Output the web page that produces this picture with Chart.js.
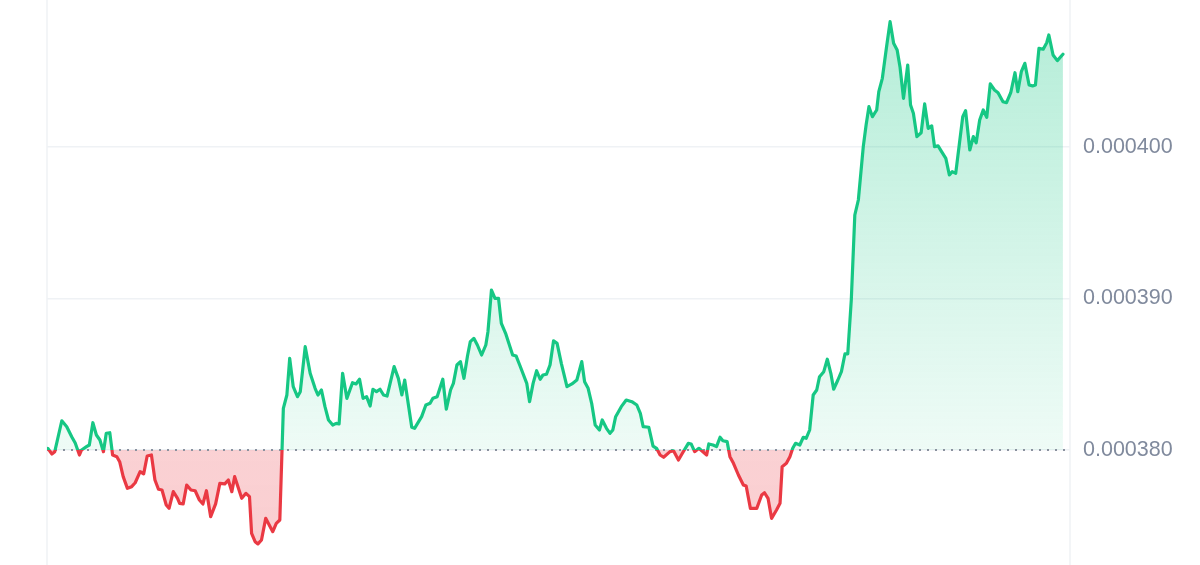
<!DOCTYPE html>
<html><head><meta charset="utf-8">
<script src="https://cdn.jsdelivr.net/npm/chart.js@4.4.1/dist/chart.umd.min.js"></script>
<style>html,body{margin:0;padding:0;background:#fff;overflow:hidden}#wrap{width:1200px;height:565px;position:relative}</style>
</head><body><div id="wrap"><canvas id="c" width="1200" height="565"></canvas></div>
<script>
// ---- data ----
const BASELINE = 380e-6;                 // opening price, dotted reference line
const yTicks = [380e-6, 390e-6, 400e-6]; // right axis tick labels
const X_MIN = 0, X_MAX = 1450;           // minutes (24h window + right padding)
const Y_MIN = 372.41e-6, Y_MAX = 409.70e-6;

const times = [
1,7,11,21,28,35,40,46,49,56,
60,65,70,75,80,84,89,93,99,103,
108,114,120,125,132,137,142,148,153,158,
163,169,173,179,185,188,193,198,204,210,
216,221,226,232,239,245,252,257,262,266,
276,282,287,290,295,299,304,310,320,325,
330,335,340,344,349,355,359,366,373,380,
384,389,394,399,405,410,414,419,425,433,
438,443,448,453,458,462,467,472,477,482,
492,498,503,507,517,521,531,537,543,547,
553,561,566,572,576,581,586,591,596,600,
605,610,616,622,625,630,635,640,644,650,
660,665,670,680,684,689,694,699,703,708,
713,718,723,729,737,744,751,758,762,767,
772,777,783,787,793,798,802,806,814,821,
829,836,841,845,853,859,864,869,874,883,
888,895,901,909,913,918,924,935,938,944,
949,954,958,964,968,973,980,987,991,997,
1001,1006,1013,1017,1022,1027,1034,1039,1042,1048,
1053,1057,1061,1067,1072,1076,1081,1086,1091,1095,
1101,1106,1111,1115,1121,1126,1131,1135,1140,1145,
1150,1157,1161,1165,1170,1176,1179,1184,1190,1195,
1200,1205,1209,1214,1220,1224,1228,1233,1239,1244,
1249,1254,1258,1263,1268,1274,1279,1283,1288,1293,
1298,1302,1308,1313,1317,1322,1327,1332,1337,1343,
1348,1355,1360,1366,1372,1376,1381,1386,1392,1397,
1401,1406,1412,1417,1420,1426,1432,1440
];

const prices = [
380.11e-6,379.74e-6,379.89e-6,381.93e-6,381.54e-6,380.88e-6,380.46e-6,379.67e-6,380.00e-6,380.22e-6,
380.33e-6,381.80e-6,380.99e-6,380.66e-6,379.89e-6,381.10e-6,381.14e-6,379.67e-6,379.56e-6,379.23e-6,
378.24e-6,377.47e-6,377.58e-6,377.84e-6,378.57e-6,378.42e-6,379.60e-6,379.67e-6,378.02e-6,377.41e-6,
377.36e-6,376.37e-6,376.15e-6,377.25e-6,376.81e-6,376.48e-6,376.44e-6,377.69e-6,377.36e-6,377.31e-6,
376.70e-6,376.44e-6,377.31e-6,375.60e-6,376.44e-6,377.80e-6,377.76e-6,378.02e-6,377.25e-6,378.24e-6,
376.81e-6,377.14e-6,376.92e-6,374.50e-6,373.95e-6,373.80e-6,374.06e-6,375.49e-6,374.61e-6,375.16e-6,
375.38e-6,382.75e-6,383.63e-6,386.05e-6,384.18e-6,383.52e-6,383.85e-6,386.82e-6,385.06e-6,384.07e-6,
383.63e-6,383.96e-6,382.86e-6,381.98e-6,381.65e-6,381.76e-6,381.72e-6,385.06e-6,383.41e-6,384.44e-6,
384.36e-6,384.67e-6,383.41e-6,383.52e-6,382.90e-6,384.01e-6,383.85e-6,384.01e-6,383.63e-6,383.56e-6,
385.50e-6,384.73e-6,383.63e-6,384.62e-6,381.50e-6,381.43e-6,382.20e-6,382.97e-6,383.08e-6,383.41e-6,
383.52e-6,384.67e-6,382.69e-6,383.96e-6,384.40e-6,385.61e-6,385.83e-6,384.73e-6,386.20e-6,387.15e-6,
387.37e-6,386.93e-6,386.27e-6,386.93e-6,387.81e-6,390.56e-6,390.01e-6,390.01e-6,388.36e-6,387.70e-6,
386.27e-6,386.20e-6,385.61e-6,384.40e-6,383.19e-6,384.40e-6,385.23e-6,384.67e-6,384.95e-6,385.00e-6,
385.61e-6,387.21e-6,387.04e-6,385.72e-6,384.18e-6,384.36e-6,384.62e-6,385.83e-6,384.51e-6,384.07e-6,
383.08e-6,381.65e-6,381.32e-6,381.98e-6,381.43e-6,381.10e-6,381.32e-6,382.20e-6,382.86e-6,383.30e-6,
383.19e-6,382.97e-6,382.42e-6,381.54e-6,381.50e-6,380.26e-6,380.11e-6,379.67e-6,379.52e-6,379.89e-6,
379.95e-6,379.34e-6,379.82e-6,380.44e-6,380.40e-6,379.89e-6,380.11e-6,379.67e-6,380.40e-6,380.33e-6,
380.22e-6,380.84e-6,380.61e-6,380.55e-6,379.56e-6,379.12e-6,378.35e-6,377.69e-6,377.62e-6,376.15e-6,
376.15e-6,376.15e-6,377.03e-6,377.18e-6,376.81e-6,375.49e-6,376.04e-6,376.48e-6,378.90e-6,379.12e-6,
379.56e-6,380.11e-6,380.44e-6,380.33e-6,380.84e-6,380.77e-6,381.32e-6,383.63e-6,383.96e-6,384.84e-6,
385.17e-6,385.99e-6,385.06e-6,384.01e-6,384.62e-6,385.17e-6,386.34e-6,386.34e-6,389.90e-6,395.51e-6,
396.50e-6,400.02e-6,401.45e-6,402.66e-6,402.00e-6,402.44e-6,403.65e-6,404.53e-6,406.62e-6,408.27e-6,
406.84e-6,406.40e-6,405.30e-6,403.21e-6,405.41e-6,402.77e-6,402.22e-6,400.68e-6,400.94e-6,402.84e-6,
401.23e-6,401.39e-6,400.02e-6,400.07e-6,399.69e-6,399.25e-6,398.15e-6,398.37e-6,398.26e-6,400.13e-6,
402.00e-6,402.40e-6,399.80e-6,400.68e-6,400.28e-6,401.78e-6,402.44e-6,401.96e-6,404.16e-6,403.76e-6,
403.58e-6,402.99e-6,402.92e-6,403.58e-6,404.90e-6,403.65e-6,404.97e-6,405.52e-6,404.09e-6,404.03e-6,
404.09e-6,406.51e-6,406.45e-6,406.88e-6,407.39e-6,406.07e-6,405.70e-6,406.12e-6
];

// ---- styles ----
const GREEN = '#16c784', RED = '#ea3943';

function splitGradient(chart, stopsAbove, stopsBelow) {
  const area = chart.chartArea;
  if (!area) return null;
  const yb = chart.scales.y.getPixelForValue(BASELINE);
  const h = area.bottom - area.top;
  const f = Math.min(1, Math.max(0, (yb - area.top) / h));
  const g = chart.ctx.createLinearGradient(0, area.top, 0, area.bottom);
  g.addColorStop(0, stopsAbove[0]);
  g.addColorStop(f, stopsAbove[1]);
  g.addColorStop(f, stopsBelow[0]);
  g.addColorStop(1, stopsBelow[1]);
  return g;
}

const sideLines = {
  id: 'sideLines',
  beforeDatasetsDraw(chart) {
    const {ctx, chartArea: a} = chart;
    ctx.save();
    ctx.strokeStyle = '#eff2f5';
    ctx.lineWidth = 1.5;
    [a.left, a.right].forEach(x => {
      ctx.beginPath(); ctx.moveTo(x, 0); ctx.lineTo(x, chart.height); ctx.stroke();
    });
    ctx.restore();
  }
};

const pricePoints = times.map((t, i) => ({x: t, y: prices[i]}));

new Chart(document.getElementById('c'), {
  type: 'line',
  data: {
    datasets: [
      {
        data: pricePoints,
        borderWidth: 3.2,
        pointRadius: 0,
        tension: 0,
        borderJoinStyle: 'round',
        borderCapStyle: 'round',
        borderColor: ctx => splitGradient(ctx.chart, [GREEN, GREEN], [RED, RED]) || GREEN,
        backgroundColor: ctx => splitGradient(ctx.chart,
          ['rgba(22,199,132,0.33)', 'rgba(22,199,132,0.07)'],
          ['rgba(234,57,67,0.23)', 'rgba(234,57,67,0.25)']) || 'rgba(22,199,132,0.2)',
        fill: {value: BASELINE}
      },
      {
        data: [{x: X_MIN, y: BASELINE}, {x: X_MAX, y: BASELINE}],
        borderColor: '#8a919e',
        borderWidth: 2,
        borderDash: [2, 6],
        borderCapStyle: 'butt',
        pointRadius: 0,
        fill: false
      }
    ]
  },
  options: {
    responsive: false,
    animation: false,
    devicePixelRatio: 1,
    layout: {padding: {left: 47, right: 0, top: 0, bottom: 0}},
    plugins: {
      legend: {display: false},
      tooltip: {enabled: false},
      filler: {drawTime: 'beforeDatasetsDraw'}
    },
    scales: {
      x: {type: 'linear', min: X_MIN, max: X_MAX, display: false},
      y: {
        type: 'linear',
        position: 'right',
        min: Y_MIN, max: Y_MAX,
        afterBuildTicks: s => { s.ticks = yTicks.map(v => ({value: v})); },
        afterFit: s => { s.width = 130; s.paddingTop = 0; s.paddingBottom = 0; },
        grid: {color: '#eff2f5', lineWidth: 1.5, drawTicks: false},
        border: {display: false},
        ticks: {
          color: '#808a9d',
          padding: 13,
          autoSkip: false,
          font: {family: "'Liberation Sans', Arial, Helvetica, sans-serif", size: 21.5},
          callback: v => Number(v).toFixed(6)
        }
      }
    }
  },
  plugins: [sideLines]
});
</script>
</body></html>
